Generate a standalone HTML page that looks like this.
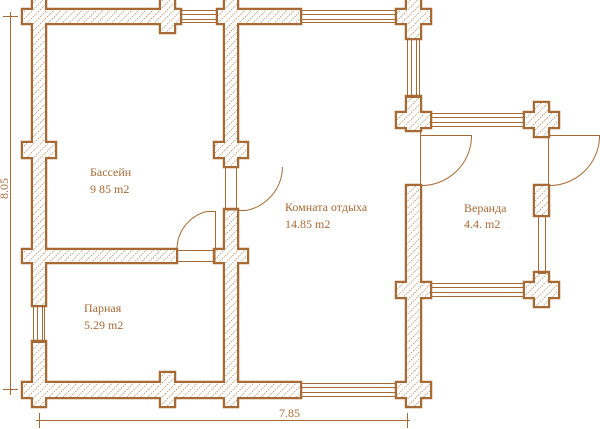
<!DOCTYPE html>
<html><head><meta charset="utf-8"><style>
html,body{margin:0;padding:0;background:#fff;width:600px;height:429px;overflow:hidden}
svg{display:block}
text{font-family:"Liberation Serif",serif;font-size:12px;fill:#a86a35}
</style></head><body>
<svg width="600" height="429" viewBox="0 0 600 429">
<defs>
<pattern id="h" width="5" height="5" patternUnits="userSpaceOnUse" patternTransform="rotate(45)">
<rect width="5" height="5" fill="#fff"/>
<line x1="0" y1="0" x2="0" y2="5" stroke="#a86a35" stroke-width="1.2" stroke-dasharray="1.5 1"/>
</pattern>
</defs>
<g fill="#a86a35" stroke="#a86a35" stroke-width="4.5">
<rect x="23" y="10" width="157" height="13"/>
<rect x="218" y="10" width="82" height="13"/>
<rect x="397" y="10" width="33" height="13"/>
<rect x="33" y="0" width="12" height="305"/>
<rect x="33" y="342" width="12" height="64"/>
<rect x="161" y="0" width="13" height="32"/>
<rect x="23" y="143" width="32" height="14"/>
<rect x="23" y="250" width="153" height="12"/>
<rect x="225" y="0" width="12" height="166"/>
<rect x="215" y="143" width="32" height="14"/>
<rect x="225" y="210" width="12" height="196"/>
<rect x="215" y="250" width="32" height="12"/>
<rect x="23" y="383" width="277" height="14"/>
<rect x="161" y="373" width="13" height="33"/>
<rect x="397" y="383" width="33" height="14"/>
<rect x="407" y="0" width="13" height="38"/>
<rect x="407" y="97" width="13" height="33"/>
<rect x="397" y="113" width="33" height="14"/>
<rect x="407" y="186" width="13" height="220"/>
<rect x="397" y="283" width="33" height="14"/>
<rect x="535" y="103" width="13" height="33"/>
<rect x="525" y="113" width="33" height="14"/>
<rect x="535" y="186" width="13" height="29"/>
<rect x="535" y="273" width="13" height="33"/>
<rect x="525" y="283" width="33" height="14"/>
</g>
<g fill="url(#h)">
<rect x="23" y="10" width="157" height="13"/>
<rect x="218" y="10" width="82" height="13"/>
<rect x="397" y="10" width="33" height="13"/>
<rect x="33" y="0" width="12" height="305"/>
<rect x="33" y="342" width="12" height="64"/>
<rect x="161" y="0" width="13" height="32"/>
<rect x="23" y="143" width="32" height="14"/>
<rect x="23" y="250" width="153" height="12"/>
<rect x="225" y="0" width="12" height="166"/>
<rect x="215" y="143" width="32" height="14"/>
<rect x="225" y="210" width="12" height="196"/>
<rect x="215" y="250" width="32" height="12"/>
<rect x="23" y="383" width="277" height="14"/>
<rect x="161" y="373" width="13" height="33"/>
<rect x="397" y="383" width="33" height="14"/>
<rect x="407" y="0" width="13" height="38"/>
<rect x="407" y="97" width="13" height="33"/>
<rect x="397" y="113" width="33" height="14"/>
<rect x="407" y="186" width="13" height="220"/>
<rect x="397" y="283" width="33" height="14"/>
<rect x="535" y="103" width="13" height="33"/>
<rect x="525" y="113" width="33" height="14"/>
<rect x="535" y="186" width="13" height="29"/>
<rect x="535" y="273" width="13" height="33"/>
<rect x="525" y="283" width="33" height="14"/>
</g>
<g fill="none" stroke="#a86a35" stroke-width="1">
<rect x="180.5" y="10.5" width="37" height="12"/><line x1="180" y1="14.5" x2="218" y2="14.5"/><line x1="180" y1="19.5" x2="218" y2="19.5"/>
<rect x="300.5" y="10.5" width="96" height="12"/><line x1="300" y1="14.5" x2="397" y2="14.5"/><line x1="300" y1="19.5" x2="397" y2="19.5"/>
<rect x="300.5" y="383.5" width="96" height="13"/><line x1="300" y1="387.5" x2="397" y2="387.5"/><line x1="300" y1="392.5" x2="397" y2="392.5"/>
<rect x="33.5" y="305.5" width="11" height="37"/><line x1="37.5" y1="305" x2="37.5" y2="342"/><line x1="42.5" y1="305" x2="42.5" y2="342"/>
<rect x="407.5" y="38.5" width="12" height="59"/><line x1="411.5" y1="38" x2="411.5" y2="97"/><line x1="416.5" y1="38" x2="416.5" y2="97"/>
<rect x="430.5" y="113.5" width="94" height="13"/><line x1="430" y1="117.5" x2="525" y2="117.5"/><line x1="430" y1="122.5" x2="525" y2="122.5"/>
<rect x="430.5" y="283.5" width="94" height="13"/><line x1="430" y1="287.5" x2="525" y2="287.5"/><line x1="430" y1="292.5" x2="525" y2="292.5"/>
<rect x="538.5" y="215.5" width="7" height="58"/>
<rect x="225.5" y="166.5" width="11" height="43.5"/>
<rect x="176.5" y="250.5" width="38.5" height="11"/>
<line x1="420.5" y1="130" x2="420.5" y2="186"/>
<line x1="548.5" y1="136" x2="548.5" y2="186"/>
<path d="M215.5 250 L215.5 211.5 L207 211.5 A39 39 0 0 0 177 250"/>
<path d="M237 210.5 L246 210.5 A45 45 0 0 0 282.5 167"/>
<path d="M420 135.5 L471.5 135.5 L471.5 138 A50 50 0 0 1 421 185.5"/>
<path d="M548 135.5 L599.5 135.5 L599.5 138 A50 50 0 0 1 549 185.5"/>
<line x1="10.5" y1="12" x2="10.5" y2="395"/>
<line x1="3" y1="16.5" x2="18" y2="16.5"/>
<line x1="3" y1="389.5" x2="18" y2="389.5"/>
<line x1="36" y1="420.5" x2="410" y2="420.5"/>
<line x1="39.5" y1="413" x2="39.5" y2="428"/>
<line x1="407.5" y1="413" x2="407.5" y2="428"/>
</g>
<text x="90" y="176">Бассейн</text>
<text x="90" y="193">9 85 m2</text>
<text x="285" y="211">Комната отдыха</text>
<text x="285" y="228">14.85 m2</text>
<text x="464" y="212">Веранда</text>
<text x="464" y="228">4.4. m2</text>
<text x="84" y="312">Парная</text>
<text x="84" y="329">5.29 m2</text>
<text x="279" y="417">7.85</text>
<text transform="translate(8,199) rotate(-90)">8.05</text>
</svg>
</body></html>
